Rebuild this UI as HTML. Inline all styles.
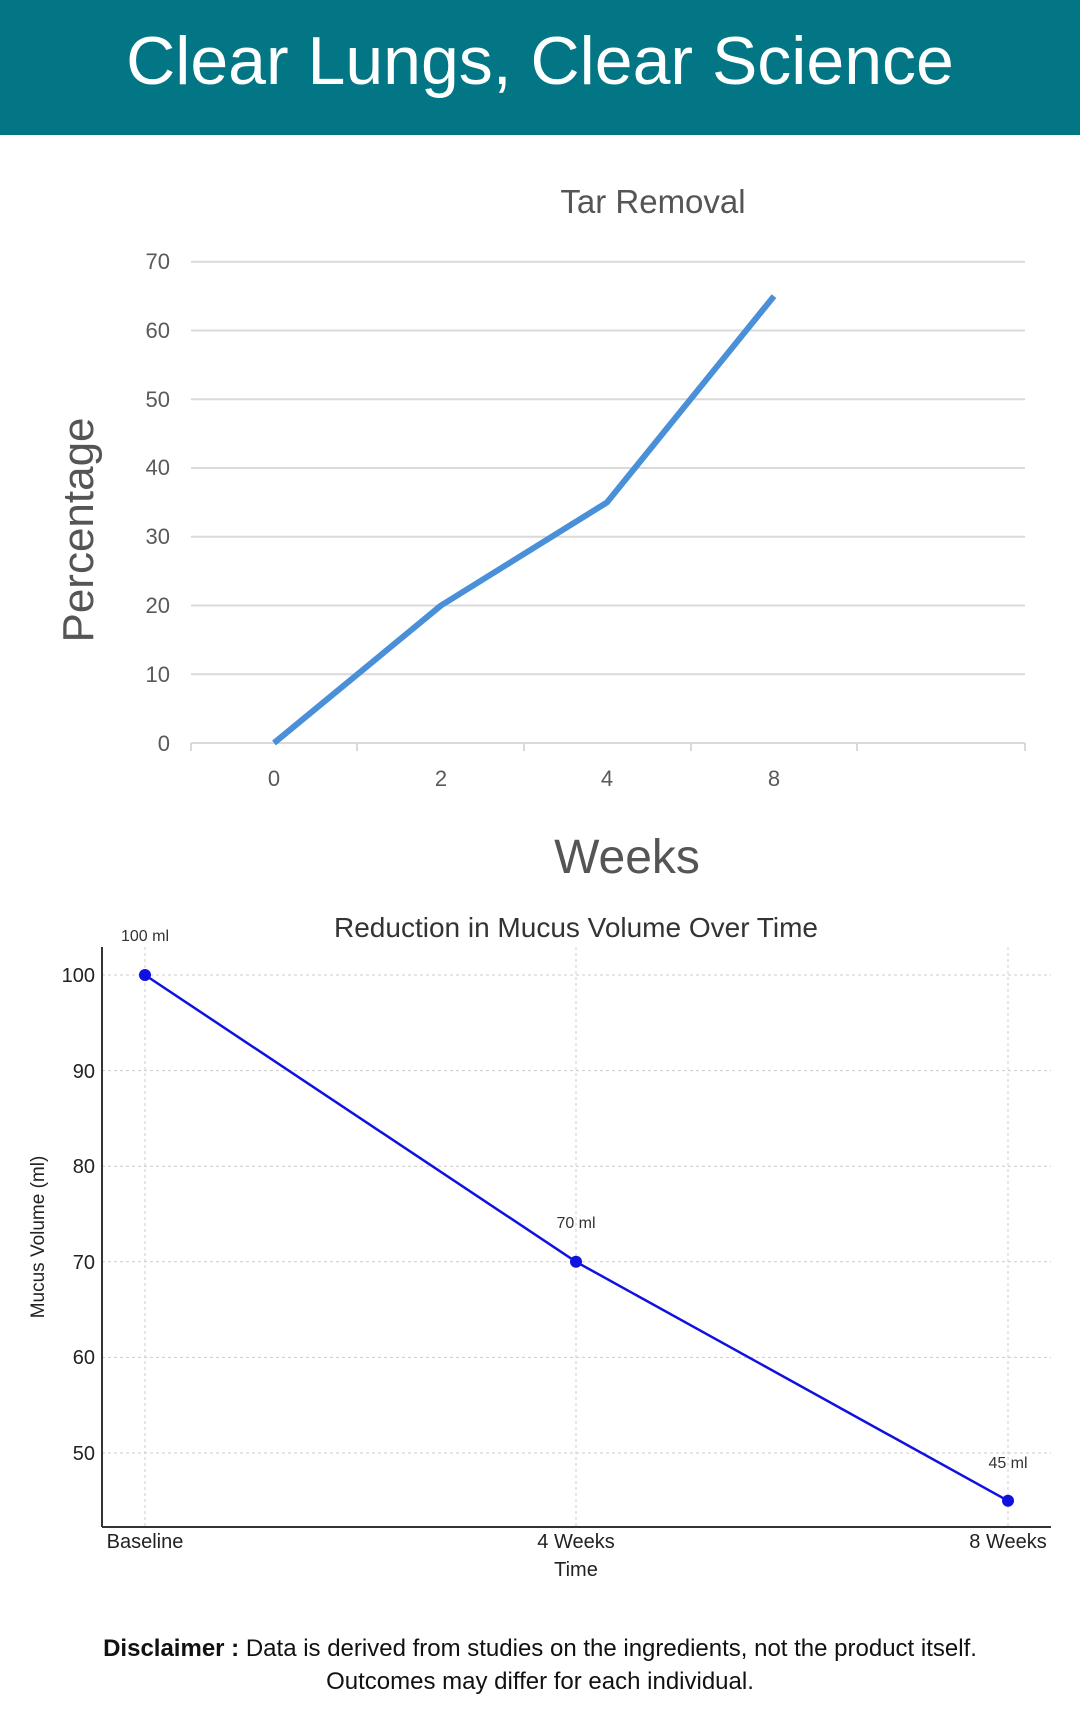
<!DOCTYPE html>
<html><head><meta charset="utf-8"><style>
html,body{margin:0;padding:0;background:#fff;}
svg{display:block;}
</style></head><body>
<svg width="1080" height="1731" viewBox="0 0 1080 1731" xmlns="http://www.w3.org/2000/svg" font-family="Liberation Sans, sans-serif">
<rect x="0" y="0" width="1080" height="135" fill="#027684"/>
<text x="540" y="84" text-anchor="middle" fill="#fff" font-size="68">Clear Lungs, Clear Science</text>

<!-- Chart 1 -->
<text x="653" y="213" text-anchor="middle" fill="#555" font-size="33">Tar Removal</text>
<g stroke="#d9d9d9" stroke-width="2">
<line x1="191" y1="261.7" x2="1025" y2="261.7"/>
<line x1="191" y1="330.5" x2="1025" y2="330.5"/>
<line x1="191" y1="399.2" x2="1025" y2="399.2"/>
<line x1="191" y1="468" x2="1025" y2="468"/>
<line x1="191" y1="536.7" x2="1025" y2="536.7"/>
<line x1="191" y1="605.5" x2="1025" y2="605.5"/>
<line x1="191" y1="674.2" x2="1025" y2="674.2"/>
<line x1="191" y1="743" x2="1025" y2="743"/>
<line x1="191" y1="743" x2="191" y2="751"/>
<line x1="357" y1="743" x2="357" y2="751"/>
<line x1="524" y1="743" x2="524" y2="751"/>
<line x1="691" y1="743" x2="691" y2="751"/>
<line x1="857" y1="743" x2="857" y2="751"/>
<line x1="1025" y1="743" x2="1025" y2="751"/>
</g>
<g fill="#595959" font-size="22" text-anchor="end">
<text x="170" y="269">70</text><text x="170" y="338">60</text><text x="170" y="407">50</text>
<text x="170" y="475">40</text><text x="170" y="544">30</text><text x="170" y="613">20</text>
<text x="170" y="682">10</text><text x="170" y="751">0</text>
</g>
<g fill="#595959" font-size="22" text-anchor="middle">
<text x="274" y="786">0</text><text x="441" y="786">2</text><text x="607" y="786">4</text><text x="774" y="786">8</text>
</g>
<polyline points="274,743 441,605.5 607,502.4 774,296.1" fill="none" stroke="#4a90d9" stroke-width="6" stroke-linejoin="round"/>
<text transform="translate(93,530) rotate(-90)" text-anchor="middle" fill="#555" font-size="44">Percentage</text>
<text x="627" y="873" text-anchor="middle" fill="#555" font-size="48">Weeks</text>

<!-- Chart 2 -->
<text x="576" y="937" text-anchor="middle" fill="#333" font-size="28">Reduction in Mucus Volume Over Time</text>
<g stroke="#ccc" stroke-width="1" stroke-dasharray="3,3">
<line x1="102" y1="975" x2="1051" y2="975"/>
<line x1="102" y1="1070.6" x2="1051" y2="1070.6"/>
<line x1="102" y1="1166.2" x2="1051" y2="1166.2"/>
<line x1="102" y1="1261.8" x2="1051" y2="1261.8"/>
<line x1="102" y1="1357.4" x2="1051" y2="1357.4"/>
<line x1="102" y1="1453" x2="1051" y2="1453"/>
<line x1="145" y1="947" x2="145" y2="1527"/>
<line x1="576" y1="947" x2="576" y2="1527"/>
<line x1="1008" y1="947" x2="1008" y2="1527"/>
</g>
<g stroke="#333" stroke-width="2">
<line x1="102" y1="947" x2="102" y2="1527"/>
<line x1="102" y1="1527" x2="1051" y2="1527"/>
</g>
<g fill="#222" font-size="20" text-anchor="end">
<text x="95" y="982">100</text><text x="95" y="1078">90</text><text x="95" y="1173">80</text>
<text x="95" y="1269">70</text><text x="95" y="1364">60</text><text x="95" y="1460">50</text>
</g>
<g fill="#222" font-size="20" text-anchor="middle">
<text x="145" y="1548">Baseline</text><text x="576" y="1548">4 Weeks</text><text x="1008" y="1548">8 Weeks</text>
<text x="576" y="1576">Time</text>
</g>
<text transform="translate(44,1237) rotate(-90)" text-anchor="middle" fill="#222" font-size="19">Mucus Volume (ml)</text>
<polyline points="145,975 576,1261.8 1008,1500.8" fill="none" stroke="#1010e0" stroke-width="2.5"/>
<g fill="#1010e0"><circle cx="145" cy="975" r="6"/><circle cx="576" cy="1261.8" r="6"/><circle cx="1008" cy="1500.8" r="6"/></g>
<g fill="#333" font-size="16" text-anchor="middle">
<text x="145" y="941">100 ml</text><text x="576" y="1228">70 ml</text><text x="1008" y="1468">45 ml</text>
</g>

<text x="540" y="1656" text-anchor="middle" fill="#111" font-size="24"><tspan font-weight="bold">Disclaimer :</tspan> Data is derived from studies on the ingredients, not the product itself.</text>
<text x="540" y="1689" text-anchor="middle" fill="#111" font-size="24">Outcomes may differ for each individual.</text>
</svg>
</body></html>
